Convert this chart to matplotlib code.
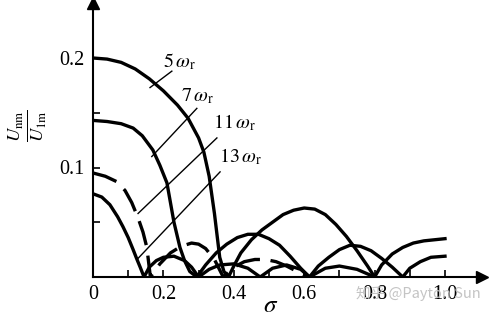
import matplotlib
matplotlib.use("Agg")
import matplotlib.pyplot as plt
import numpy as np

# harmonic amplitude ratio vs sigma (lobe by lobe)
sigma_5 = [0, 0.04, 0.08, 0.12, 0.16, 0.20, 0.24, 0.27, 0.30, 0.315, 0.33, 0.345, 0.36, 0.372, 0.385,
           0.40, 0.42, 0.45, 0.48, 0.51, 0.54, 0.57, 0.60, 0.63, 0.66, 0.69, 0.72, 0.75, 0.78, 0.80,
           0.82, 0.85, 0.88, 0.91, 0.94, 0.97, 1.0]
u_5 = [0.200, 0.199, 0.196, 0.190, 0.181, 0.170, 0.157, 0.145, 0.127, 0.114, 0.092, 0.058, 0.018, 0.005, 0.0,
       0.010, 0.022, 0.034, 0.043, 0.050, 0.057, 0.061, 0.063, 0.062, 0.057, 0.048, 0.037, 0.024, 0.010, 0.0,
       0.011, 0.021, 0.027, 0.031, 0.033, 0.034, 0.035]

sigma_7 = [0, 0.04, 0.08, 0.114, 0.14, 0.17, 0.19, 0.21, 0.22, 0.23, 0.247, 0.26, 0.275, 0.295,
           0.32, 0.35, 0.38, 0.41, 0.44, 0.47, 0.50, 0.53, 0.56, 0.59, 0.615,
           0.64, 0.67, 0.70, 0.73, 0.76, 0.79, 0.82, 0.85, 0.88,
           0.90, 0.93, 0.96, 1.0]
u_7 = [0.143, 0.142, 0.140, 0.136, 0.129, 0.116, 0.102, 0.086, 0.068, 0.050, 0.027, 0.015, 0.005, 0.0,
       0.011, 0.022, 0.030, 0.036, 0.039, 0.039, 0.035, 0.029, 0.019, 0.008, 0.0,
       0.010, 0.018, 0.025, 0.029, 0.028, 0.024, 0.017, 0.009, 0.0,
       0.008, 0.014, 0.018, 0.019]

sigma_11 = [0, 0.035, 0.068, 0.091, 0.11, 0.128, 0.142, 0.153, 0.163,
            0.19, 0.22, 0.25, 0.28, 0.30, 0.32, 0.345, 0.37,
            0.40, 0.43, 0.46, 0.49, 0.52, 0.55, 0.58, 0.61]
u_11 = [0.095, 0.092, 0.087, 0.079, 0.068, 0.054, 0.041, 0.027, 0.0,
        0.012, 0.022, 0.028, 0.031, 0.030, 0.026, 0.016, 0.0,
        0.009, 0.014, 0.016, 0.016, 0.014, 0.010, 0.005, 0.0]

sigma_13 = [0, 0.025, 0.048, 0.07, 0.085, 0.10, 0.114, 0.125, 0.134, 0.145,
            0.16, 0.18, 0.20, 0.23, 0.26, 0.28, 0.30,
            0.33, 0.36, 0.40, 0.44, 0.475,
            0.51, 0.55, 0.59, 0.615,
            0.66, 0.70, 0.75, 0.80]
u_13 = [0.076, 0.073, 0.066, 0.055, 0.046, 0.036, 0.025, 0.016, 0.009, 0.0,
        0.009, 0.015, 0.018, 0.019, 0.015, 0.009, 0.0,
        0.007, 0.011, 0.012, 0.008, 0.0,
        0.008, 0.011, 0.007, 0.0,
        0.008, 0.010, 0.007, 0.0]

labels = [r'$5\,\omega_{\mathrm{r}}$', r'$7\,\omega_{\mathrm{r}}$',
          r'$11\,\omega_{\mathrm{r}}$', r'$13\,\omega_{\mathrm{r}}$']
label_xy = [(0.247, 0.196), (0.298, 0.165), (0.403, 0.141), (0.42, 0.110)]
leader_from = [(0.224, 0.188), (0.295, 0.154), (0.352, 0.127), (0.361, 0.096)]
leader_to = [(0.162, 0.173), (0.167, 0.110), (0.128, 0.058), (0.128, 0.017)]

xticks = [0, 0.2, 0.4, 0.6, 0.8, 1.0]
xtick_labels = ['0', '0.2', '0.4', '0.6', '0.8', '1.0']
yticks = [0.1, 0.2]
ytick_labels = ['0.1', '0.2']

plt.rcParams['font.family'] = ['Liberation Serif', 'DejaVu Sans']
plt.rcParams['mathtext.fontset'] = 'stix'

fig = plt.figure(figsize=(4.92, 3.19), dpi=100)
ax = fig.add_axes([93 / 492, 42 / 319, 389 / 492, 274 / 319])
ax.set_xlim(0, 389 / 352)
ax.set_ylim(0, 274 / 1095)

lw = 2.4
ax.plot(sigma_5, u_5, color='black', lw=lw, solid_joinstyle='round')
ax.plot(sigma_7, u_7, color='black', lw=lw, solid_joinstyle='round')
ax.plot(sigma_11, u_11, color='black', lw=lw, dashes=(7.5, 3.2), dash_capstyle='butt')
ax.plot(sigma_13, u_13, color='black', lw=lw, solid_joinstyle='round')

for txt, (tx, ty), (x0, y0), (x1, y1) in zip(labels, label_xy, leader_from, leader_to):
    ax.plot([x0, x1], [y0, y1], color='black', lw=1.0)
    ax.text(tx, ty, txt, fontsize=14.5, ha='center', va='center')

# axes with arrows
for s in ['top', 'right']:
    ax.spines[s].set_visible(False)
for s in ['left', 'bottom']:
    ax.spines[s].set_linewidth(1.5)
ax.plot(0, 1, marker='^', color='black', ms=9, transform=ax.get_xaxis_transform(), clip_on=False)
ax.plot(1, 0, marker='>', color='black', ms=9, transform=ax.get_yaxis_transform(), clip_on=False)

ax.set_xticks(xticks)
ax.set_xticklabels(xtick_labels)
ax.set_xticks(np.arange(0.1, 1.0, 0.2), minor=True)
ax.set_yticks(yticks)
ax.set_yticklabels(ytick_labels)
ax.set_yticks([0.05, 0.15], minor=True)
ax.tick_params(which='both', direction='in', length=5, width=1.2, labelsize=14.5, pad=6)

fig.text(271 / 492, 1 - 306 / 319, r'$\sigma$', fontsize=18, ha='center', va='center')
fig.text(28 / 492, 1 - 126 / 319, r'$\frac{U_{\mathrm{nm}}}{U_{\mathrm{1m}}}$', fontsize=19,
         rotation=90, ha='center', va='center')
fig.text(418 / 492, 1 - 293 / 319, '知乎 @Payton Sun', fontsize=10.5, color='#c4c4c4',
         family=['Noto Sans CJK SC', 'DejaVu Sans'], ha='center', va='center', zorder=0)

fig.savefig('out.png', dpi=100)
